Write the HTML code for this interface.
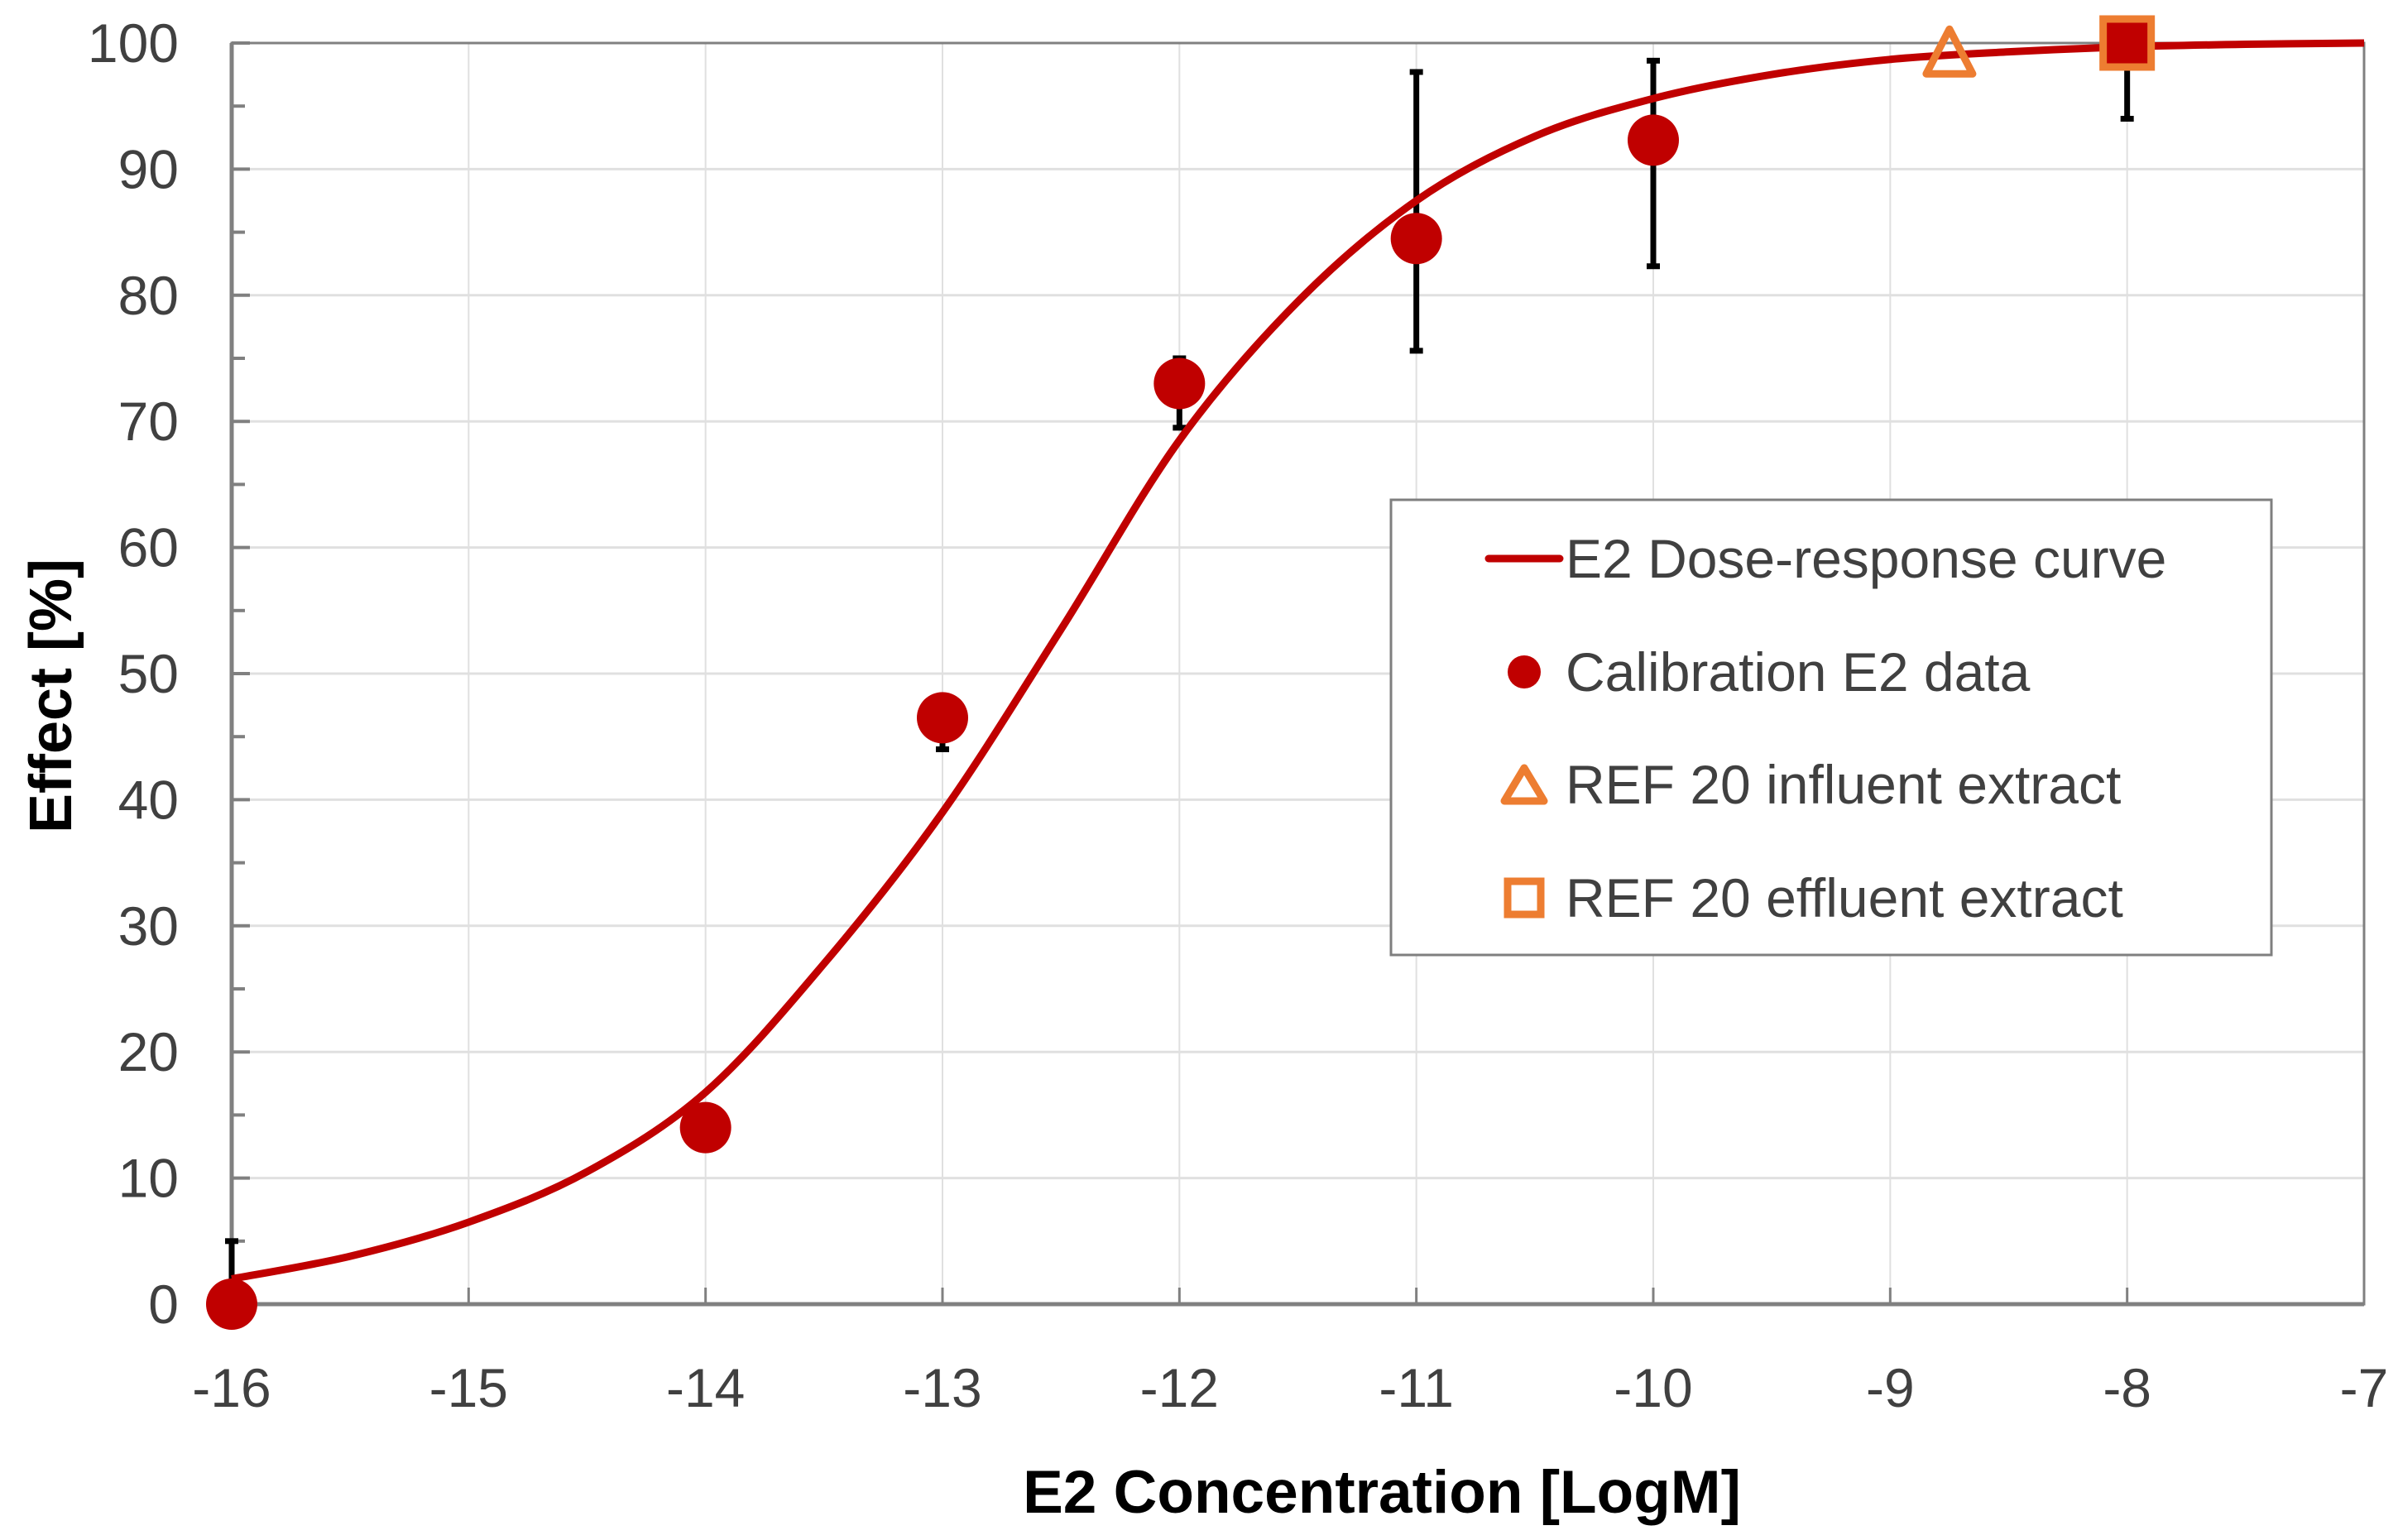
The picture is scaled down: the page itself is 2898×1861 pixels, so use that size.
<!DOCTYPE html>
<html><head><meta charset="utf-8"><style>
html,body{margin:0;padding:0;background:#fff;}
svg{display:block;font-family:"Liberation Sans",sans-serif;}
</style></head><body>
<svg id="chart" width="2898" height="1861" viewBox="0 0 2898 1861" xmlns="http://www.w3.org/2000/svg">
<g id="grid"></g>
<g id="axes"></g>
<g id="series"></g>
<text x="1670" y="1828" text-anchor="middle" font-size="73" font-weight="bold" fill="#000">E2 Concentration [LogM]</text>
<text transform="translate(86,841) rotate(-90)" text-anchor="middle" font-size="72" font-weight="bold" fill="#000">Effect [%]</text>
<g>
<rect x="1681" y="604" width="1064" height="550" fill="#fff" stroke="#7f7f7f" stroke-width="3"/>
<g>
<line x1="1799" y1="675" x2="1885" y2="675" stroke="#c00000" stroke-width="9" stroke-linecap="round"/>
<text x="1892" y="698" font-size="66" fill="#404040">E2 Dose-response curve</text></g>
<g>
<circle cx="1842" cy="812" r="20" fill="#c00000"/>
<text x="1892" y="835" font-size="66" fill="#404040">Calibration E2 data</text></g>
<g>
<polygon points="1842,928 1866,968 1818,968" fill="none" stroke="#ed7d31" stroke-width="9" stroke-linejoin="round"/>
<text x="1892" y="971" font-size="66" fill="#404040">REF 20 influent extract</text></g>
<g>
<rect x="1822" y="1065" width="40" height="40" fill="none" stroke="#ed7d31" stroke-width="9"/>
<text x="1892" y="1108" font-size="66" fill="#404040">REF 20 effluent extract</text></g>
</g>
</svg>
<script>
const xTicks = [-16,-15,-14,-13,-12,-11,-10,-9,-8,-7];
const yTicks = [0,10,20,30,40,50,60,70,80,90,100];
const curveX = [-16,-15.5,-15,-14.5,-14,-13.5,-13,-12.5,-12,-11.5,-11,-10.5,-10,-9.5,-9,-8.5,-8,-7.5,-7];
const curveY = [2,3.8,6.5,10.5,16.8,27,39,53.5,68.5,79.5,87.5,92.6,95.6,97.5,98.7,99.3,99.7,99.9,100];
const calX = [-16,-14,-13,-12,-11,-10];
const calY = [0,14,46.5,73,84.5,92.3];
const calErrLo = [0,14,44,69.5,75.6,82.3];
const calErrHi = [5,14,46.5,75,97.7,98.6];
const inflX = [-8.75];
const inflY = [99];
const efflX = [-8];
const efflY = [100];
const efflErrLo = [94];
const efflErrHi = [100];

const L=280,R=2857,T=52,B=1576;
const X=v=>L+(v+16)/9*(R-L);
const Y=v=>B-v/100*(B-T);
const NS='http://www.w3.org/2000/svg';
function mk(tag,parent,attrs){const e=document.createElementNS(NS,tag);for(const k in attrs)e.setAttribute(k,attrs[k]);parent.appendChild(e);return e;}
const grid=document.getElementById('grid'),axes=document.getElementById('axes'),ser=document.getElementById('series');

xTicks.forEach(v=>{
  if(v>-16){const g=mk('line',grid,{x1:X(v),x2:X(v),y1:T,y2:B,stroke:'#e0e0e0','stroke-width':2});
  
  }
  const t=mk('line',axes,{x1:X(v),x2:X(v),y1:B,y2:B-20,stroke:'#808080','stroke-width':3});
  
  
  const l=mk('text',axes,{x:X(v),y:B+124,'text-anchor':'middle','font-size':66,fill:'#404040'});
  l.textContent=v;
  
  
});
yTicks.forEach(v=>{
  if(v>0){const g=mk('line',grid,{x1:L,x2:R,y1:Y(v),y2:Y(v),stroke:'#e0e0e0','stroke-width':3});
  
  }
  const t=mk('line',axes,{x1:L,x2:L+22,y1:Y(v),y2:Y(v),stroke:'#808080','stroke-width':4});
  
  
  if(v<100){const m=mk('line',axes,{x1:L,x2:L+16,y1:Y(v+5),y2:Y(v+5),stroke:'#808080','stroke-width':4});
  
  }
  const l=mk('text',axes,{x:216,y:Y(v)+23,'text-anchor':'end','font-size':66,fill:'#404040'});
  l.textContent=v;
  
  
});
const frame=mk('rect',axes,{x:L,y:T,width:R-L,height:B-T,fill:'none',stroke:'#808080','stroke-width':3});


const xa=mk('line',axes,{x1:L,x2:R,y1:B,y2:B,stroke:'#808080','stroke-width':5});


const ya=mk('line',axes,{x1:L,x2:L,y1:T,y2:B,stroke:'#808080','stroke-width':5});



function errbar(x,lo,hi){
  if(hi-lo<0.1)return;
  const g=mk('g',ser,{stroke:'#000','stroke-width':7});
  
  
  mk('line',g,{x1:X(x),x2:X(x),y1:Y(lo),y2:Y(hi)});
  mk('line',g,{x1:X(x)-8,x2:X(x)+8,y1:Y(lo),y2:Y(lo)});
  mk('line',g,{x1:X(x)-8,x2:X(x)+8,y1:Y(hi),y2:Y(hi)});
}
calX.forEach((x,i)=>errbar(x,calErrLo[i],calErrHi[i]));
efflX.forEach((x,i)=>errbar(x,efflErrLo[i],efflErrHi[i]));

const P=curveX.map((x,i)=>[X(x),Y(curveY[i])]);
let d='M'+P[0][0]+','+P[0][1];
for(let i=0;i<P.length-1;i++){
  const p0=P[Math.max(0,i-1)],p1=P[i],p2=P[i+1],p3=P[Math.min(P.length-1,i+2)];
  const c1x=p1[0]+(p2[0]-p0[0])/6,c1y=p1[1]+(p2[1]-p0[1])/6;
  const c2x=p2[0]-(p3[0]-p1[0])/6,c2y=p2[1]-(p3[1]-p1[1])/6;
  d+=` C${c1x},${c1y} ${c2x},${c2y} ${p2[0]},${p2[1]}`;
}
const curve=mk('path',ser,{d:d,fill:'none',stroke:'#c00000','stroke-width':9,'stroke-linejoin':'round'});



calX.forEach((x,i)=>{
  const c=mk('circle',ser,{cx:X(x),cy:Y(calY[i]),r:31,fill:'#c00000'});
  
  
});
inflX.forEach((x,i)=>{
  const cx=X(x),cy=Y(inflY[i]);
  const p=mk('polygon',ser,{points:`${cx},${cy-32} ${cx+28},${cy+22} ${cx-28},${cy+22}`,fill:'none',stroke:'#ed7d31','stroke-width':9,'stroke-linejoin':'round'});
  
  
});
efflX.forEach((x,i)=>{
  const cx=X(x),cy=Y(efflY[i]);
  const r=mk('rect',ser,{x:cx-29,y:cy-29,width:58,height:58,fill:'#c00000',stroke:'#ed7d31','stroke-width':9});
  
  
});
</script>
</body></html>
